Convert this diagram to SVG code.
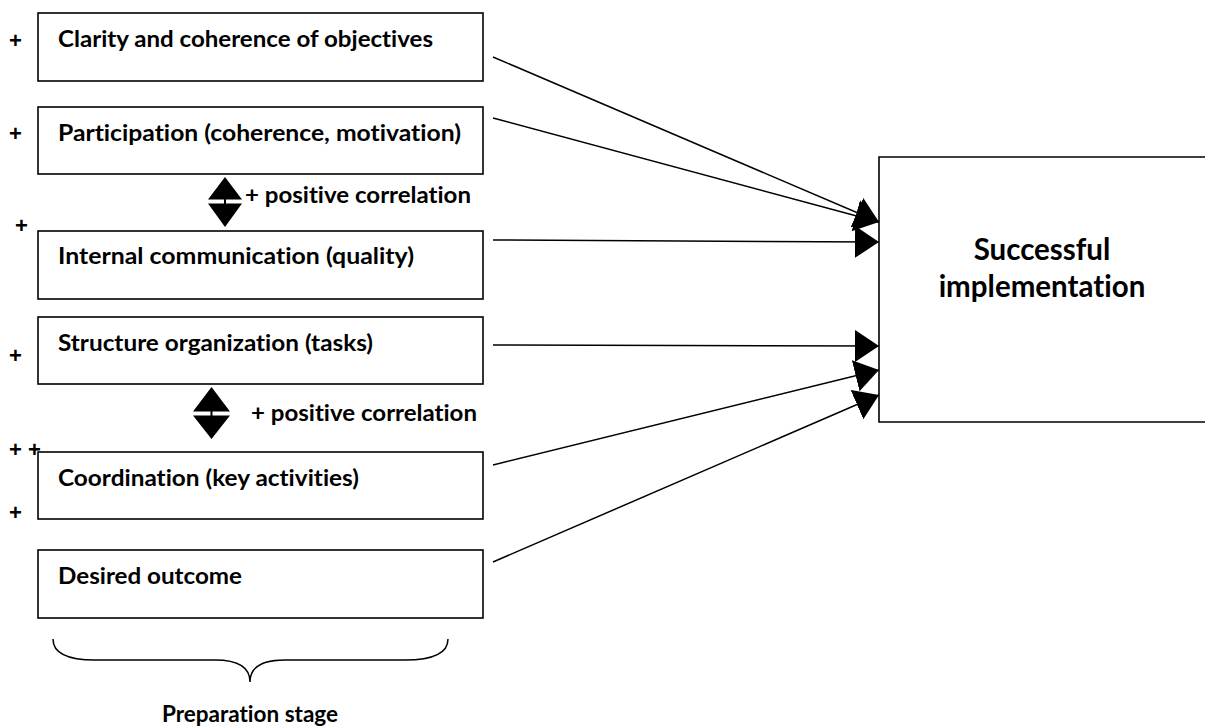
<svg xmlns="http://www.w3.org/2000/svg" width="1205" height="727" viewBox="0 0 1205 727">
<style>
.box{fill:#fff;stroke:#000;stroke-width:1.6}
.t{font-family:Lato,"Open Sans","Liberation Sans",sans-serif;font-weight:bold;font-size:23.5px;fill:#000;font-variant-ligatures:none}
.big{font-family:Lato,"Open Sans","Liberation Sans",sans-serif;font-weight:bold;font-size:29.5px;fill:#000;font-variant-ligatures:none}
.pl{font-family:"Liberation Sans",sans-serif;font-weight:bold;font-size:22px;fill:#000}
.ln{stroke:#000;stroke-width:1.5;fill:none}
</style>
<defs>
<marker id="ah" markerUnits="userSpaceOnUse" markerWidth="26" markerHeight="34" refX="24" refY="16" orient="auto" viewBox="0 0 26 34">
<path d="M0,0 L24,16 L0,32 z" fill="#000"/>
</marker>
</defs>
<rect width="1205" height="727" fill="#fff"/>
<g id="n1"><rect class="box" x="38" y="13" width="445" height="68"/><text class="t" x="58" y="47" textLength="375" lengthAdjust="spacingAndGlyphs">Clarity and coherence of objectives</text></g>
<g id="n2"><rect class="box" x="38" y="107" width="445" height="67"/><text class="t" x="58" y="141" textLength="403" lengthAdjust="spacingAndGlyphs">Participation (coherence, motivation)</text></g>
<g id="n3"><rect class="box" x="38" y="231" width="445" height="68"/><text class="t" x="58" y="264" textLength="356" lengthAdjust="spacingAndGlyphs">Internal communication (quality)</text></g>
<g id="n4"><rect class="box" x="38" y="317" width="445" height="67"/><text class="t" x="58" y="351" textLength="315" lengthAdjust="spacingAndGlyphs">Structure organization (tasks)</text></g>
<g id="n5"><rect class="box" x="38" y="452" width="445" height="67"/><text class="t" x="58" y="486" textLength="301" lengthAdjust="spacingAndGlyphs">Coordination (key activities)</text></g>
<g id="n6"><rect class="box" x="38" y="550" width="445" height="68"/><text class="t" x="58" y="584" textLength="184" lengthAdjust="spacingAndGlyphs">Desired outcome</text></g>
<g id="target"><path class="box" d="M1210,157 L879,157 L879,422 L1210,422"/><text class="big" text-anchor="middle" x="1042" y="260">Successful</text><text class="big" text-anchor="middle" x="1042" y="297">implementation</text></g>
<g id="signs">
<text class="pl" x="9" y="48">+</text>
<text class="pl" x="9" y="141">+</text>
<text class="pl" x="15" y="233">+</text>
<text class="pl" x="9" y="363">+</text>
<text class="pl" x="9" y="457">+ +</text>
<text class="pl" x="9" y="520">+</text>
</g>
<g id="corr1">
<path d="M225,177 L242,199.5 L208,199.5 z M208,203.5 L242,203.5 L225,227 z" fill="#000"/>
<line x1="225" y1="199" x2="225" y2="204" stroke="#000" stroke-width="2"/>
<text class="t" x="245" y="203" textLength="226" lengthAdjust="spacingAndGlyphs">+ positive correlation</text>
</g>
<g id="corr2">
<path d="M211.5,387 L230,411.5 L193,411.5 z M193,415.5 L230,415.5 L211.5,439 z" fill="#000"/>
<line x1="211.5" y1="411" x2="211.5" y2="416" stroke="#000" stroke-width="2"/>
<text class="t" x="251" y="421" textLength="226" lengthAdjust="spacingAndGlyphs">+ positive correlation</text>
</g>
<g id="connectors">
<line class="ln" x1="493" y1="57" x2="879" y2="222" marker-end="url(#ah)"/>
<line class="ln" x1="493" y1="118" x2="879" y2="222" marker-end="url(#ah)"/>
<line class="ln" x1="493" y1="240" x2="879" y2="242" marker-end="url(#ah)"/>
<line class="ln" x1="493" y1="345" x2="879" y2="346" marker-end="url(#ah)"/>
<line class="ln" x1="493" y1="465" x2="879" y2="370" marker-end="url(#ah)"/>
<line class="ln" x1="493" y1="562" x2="879" y2="395" marker-end="url(#ah)"/>
</g>
<g id="brace">
<path class="ln" d="M53,639 C53,655 70,660 95,660 L215,660 C240,660 250,668 250,682 C250,668 260,660 285,660 L405,660 C430,660 448,655 448,639"/>
<text class="t" text-anchor="middle" x="250" y="722" style="font-size:22.5px">Preparation stage</text>
</g>
</svg>
